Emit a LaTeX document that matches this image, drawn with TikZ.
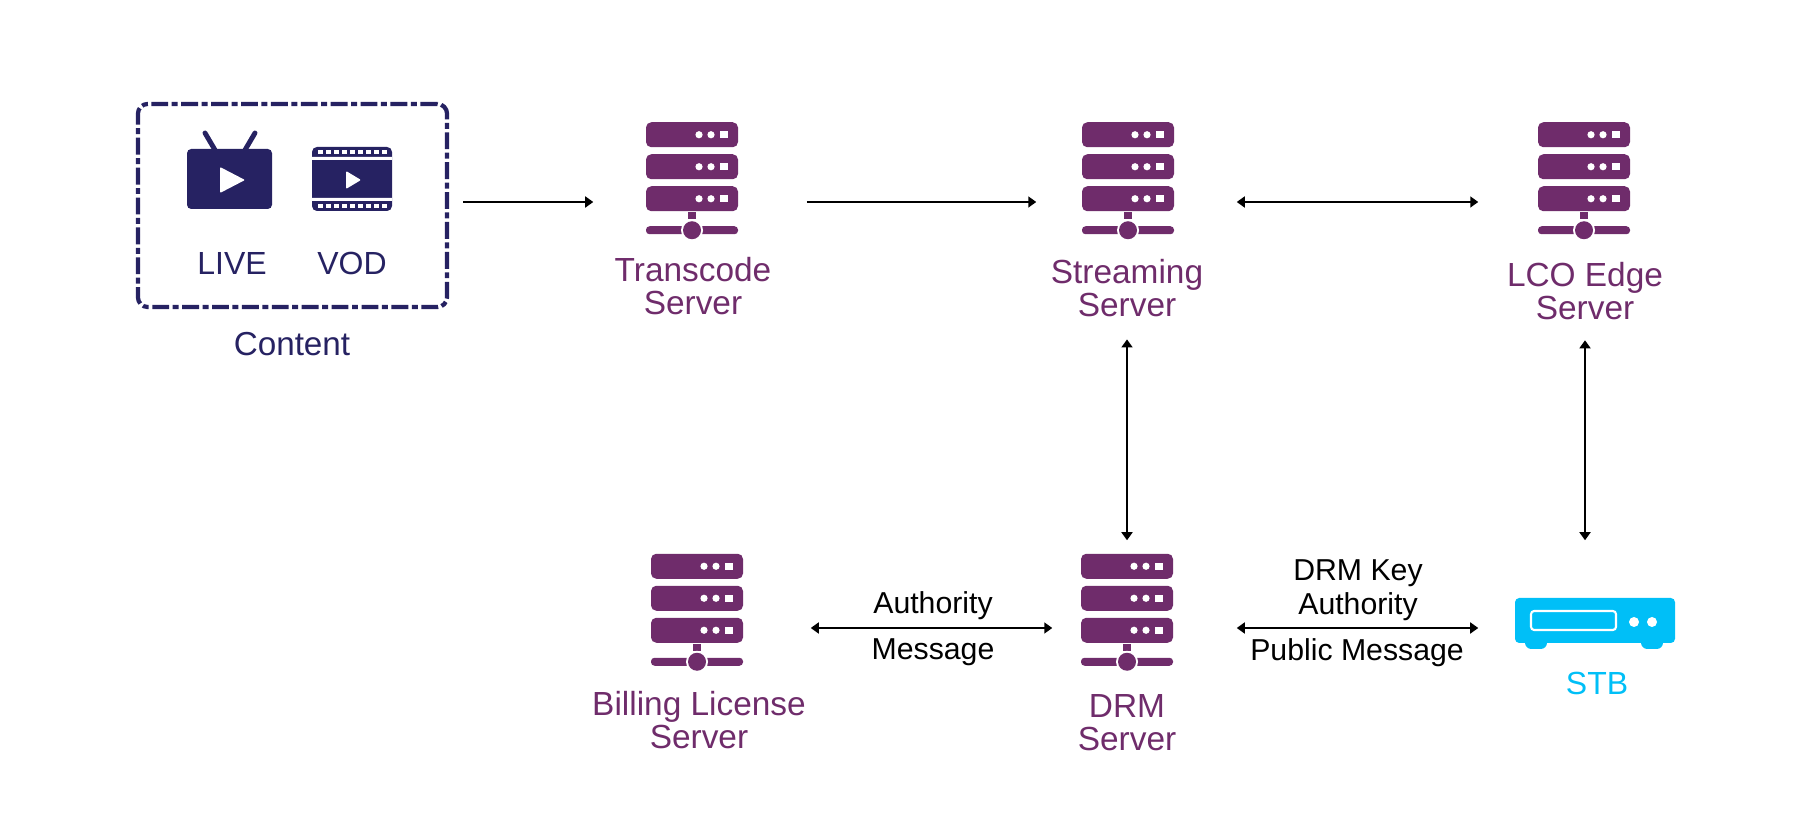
\documentclass[tikz,border=0pt]{standalone}
\usepackage{fontspec}
\setmainfont{Liberation Sans}
\definecolor{navyc}{HTML}{262262}
\definecolor{purplec}{HTML}{6F2C6B}
\definecolor{cyanc}{HTML}{00BFF7}
\usetikzlibrary{arrows.meta}
\begin{document}
\begin{tikzpicture}[
        x=0.01cm, y=-0.01cm,
        arr/.style={{Triangle[length=0.8mm,width=1.1mm]}-{Triangle[length=0.8mm,width=1.1mm]}, line width=0.48pt, black},
        oneway/.style={-{Triangle[length=0.8mm,width=1.1mm]}, line width=0.48pt, black},
        serverbox/.style={minimum width=0.92cm, minimum height=#1, inner sep=0pt},
        srvtext/.style={align=center, text=purplec, font=\fontsize{9.5}{9.4}\selectfont},
        contenttext/.style={text=navyc, font=\fontsize{9.1}{10}\selectfont},
        linktext/.style={align=center, text=black, font=\fontsize{8.6}{9.6}\selectfont},
        server/.pic={
            \foreach \top in {0,32,64} {
                \fill[purplec, rounded corners=1.5pt] (-46,\top) rectangle (46,\top+25);
                \fill[white] (7,\top+12.5) circle [radius=3.6];
                \fill[white] (19,\top+12.5) circle [radius=3.6];
                \fill[white] (28,\top+9) rectangle (36,\top+16);
            }
            \fill[purplec] (-4,90) rectangle (4,97);
            \fill[purplec, rounded corners=1pt] (-46,104) rectangle (46,112);
            \fill[white] (0,108) circle [radius=11];
            \fill[purplec] (0,108) circle [radius=9];
        }
    ]
    \useasboundingbox (0,0) rectangle (1800,822);

    % content box
    \node[draw=navyc, line width=1.2pt, rounded corners=2.8pt, dash pattern=on 4.8pt off 1pt on 1.7pt off 1pt,
        minimum width=3.09cm, minimum height=2.03cm] (content) at (292.5,205.5) {};
    % live
    \draw[navyc, line width=1.4pt, line cap=round] (215,150) -- (205,133) (245,150) -- (255,133);
    \fill[navyc, rounded corners=1.2pt] (187,149) rectangle (272,209);
    \fill[white, rounded corners=0.3pt] (220,167) -- (245,180) -- (220,193) -- cycle;
    % vod
    \fill[navyc, rounded corners=1.4pt] (312,147) rectangle (392,211);
    \fill[white] (312,157) rectangle (392,160) (312,198) rectangle (392,201);
    \foreach \i in {0,...,8} {
        \fill[white] (318+\i*8,150) rectangle (322.5+\i*8,154);
        \fill[white] (318+\i*8,204) rectangle (322.5+\i*8,208);
    }
    \fill[white, rounded corners=0.3pt] (346,171) -- (361,180) -- (346,189) -- cycle;
    \node[contenttext] (live) at (232,263) {LIVE};
    \node[contenttext] (vod) at (352,263) {VOD};
    \node[contenttext, font=\fontsize{9.45}{10}\selectfont] (contentlabel) at (292,344) {Content};

    % servers
    \node[serverbox=1.58cm] (transcode) at (692,202) {};
    \node[serverbox=1.58cm] (streaming) at (1128,202) {};
    \node[serverbox=1.58cm] (edge) at (1584,202) {};
    \node[serverbox=1.47cm] (billing) at (697,628) {};
    \node[serverbox=1.47cm] (drm) at (1127,628) {};
    \foreach \srv in {transcode,streaming,edge,billing,drm} {
        \pic at (\srv.north) {server};
    }
    \node[srvtext] (transcodelabel) at (693,286) {Transcode\\Server};
    \node[srvtext] (streaminglabel) at (1127,288) {Streaming\\Server};
    \node[srvtext] (edgelabel) at (1585,291) {LCO Edge\\Server};
    \node[srvtext] (billinglabel) at (699,720) {Billing License\\Server};
    \node[srvtext] (drmlabel) at (1127,723) {DRM\\Server};

    % stb
    \node[minimum width=1.6cm, minimum height=0.6cm, inner sep=0pt] (stb) at (1595,628) {};
    \fill[cyanc, rounded corners=1.8pt] (1525,636) rectangle (1547,649) (1641,636) rectangle (1663,649);
    \fill[cyanc, rounded corners=1.2pt] (1515,598) rectangle (1675,643);
    \draw[white, line width=0.6pt, rounded corners=0.9pt] (1531,611) rectangle (1616,630);
    \fill[white] (1634,622) circle [radius=5] (1652,622) circle [radius=5];
    \node[text=cyanc, font=\fontsize{9.1}{10}\selectfont] (stblabel) at (1597,683) {STB};

    % connectors
    \draw[oneway, shorten <=14*0.2845pt, shorten >=52*0.2845pt] (content.east |- transcode.west) -- (transcode.west);
    \draw[oneway, shorten <=68*0.2845pt, shorten >=45*0.2845pt] (transcode.east) -- (streaming.west);
    \draw[arr, shorten <=(1236-1174)*0.2845pt, shorten >=(1538-1479)*0.2845pt] (streaming.east) -- (edge.west);
    \draw[arr, shorten <=2.9pt, shorten >=3.84pt] (streaminglabel.south) -- (streaminglabel.south |- drm.north);
    \draw[arr, shorten <=2.3pt, shorten >=(598-541)*0.2845pt] (edgelabel.south) -- (edgelabel.south |- stb.north);
    \draw[arr, shorten <=(810-743)*0.2845pt, shorten >=(1081-1053)*0.2845pt] (billing.east) -- (drm.west);
    \draw[arr, shorten <=(1236-1173)*0.2845pt, shorten >=(1515-1479)*0.2845pt] (drm.east) -- (stb.west);

    % link labels
    \node[linktext] (authtop) at (933,606) {Authority};
    \node[linktext] (authbottom) at (933,652) {Message};
    \node[linktext] (keytop) at (1358,590) {DRM Key\\Authority};
    \node[linktext] (keybottom) at (1357,653) {Public Message};
\end{tikzpicture}
\end{document}
